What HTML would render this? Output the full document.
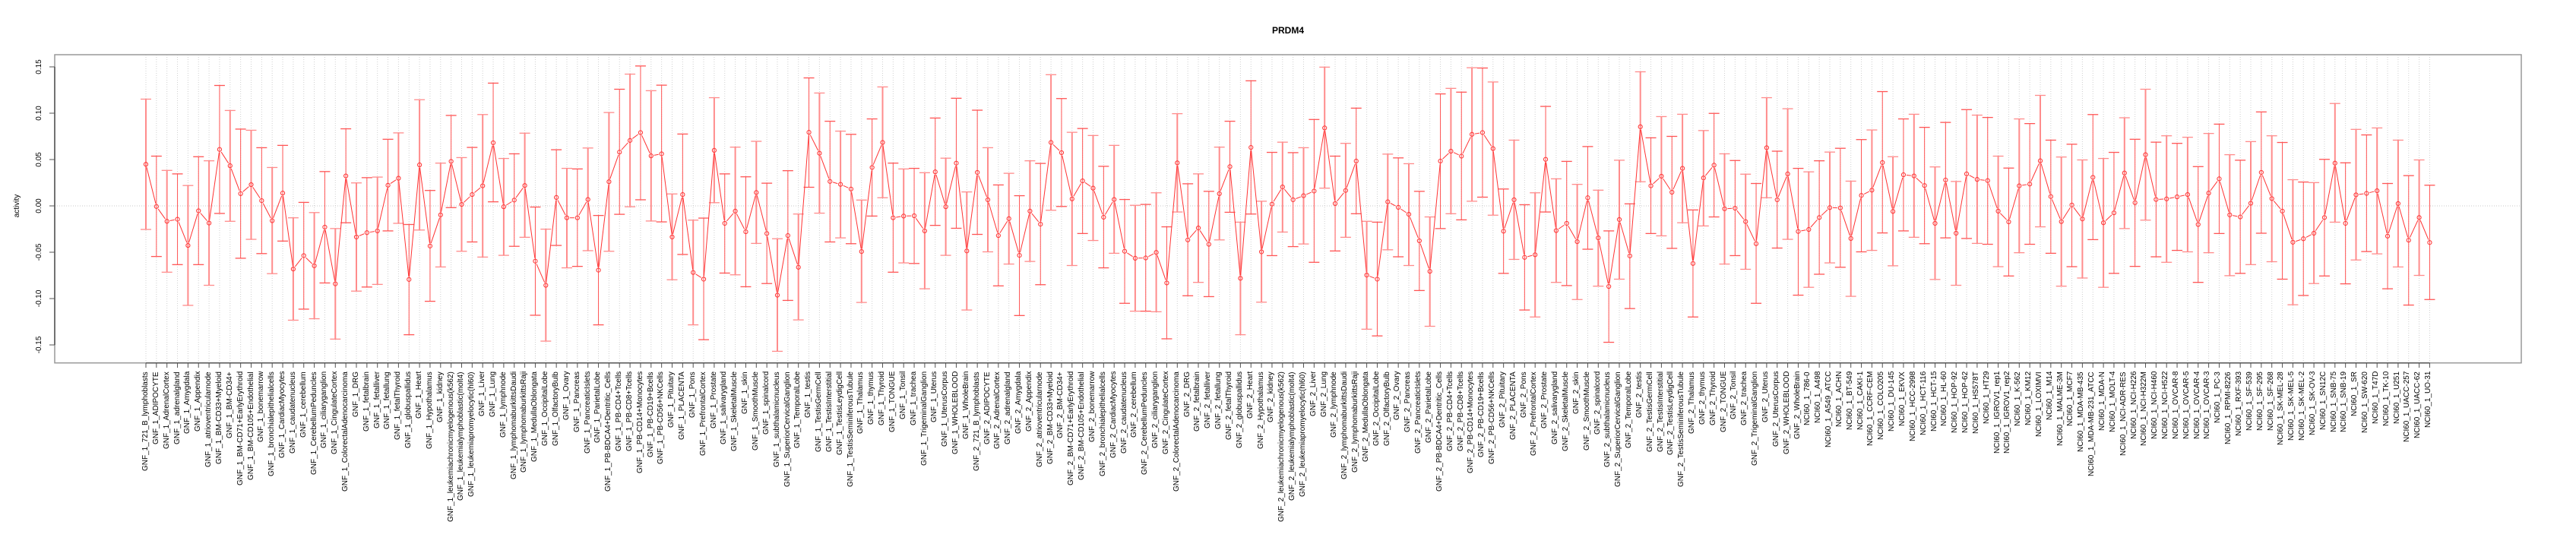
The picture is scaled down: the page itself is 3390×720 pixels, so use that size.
<!DOCTYPE html>
<html><head><meta charset="utf-8"><style>
html,body{margin:0;padding:0;background:#fff;}
#wrap{position:relative;width:3390px;height:720px;overflow:hidden;font-family:"Liberation Sans",sans-serif;}
svg{position:absolute;left:0;top:0;}
#labs{position:absolute;left:185.075px;top:489px;height:225px;display:flex;}
#labs div{width:13.85px;height:225px;writing-mode:vertical-rl;transform:rotate(180deg);text-align:right;font-size:10px;line-height:13.85px;white-space:nowrap;color:#000;}
</style></head><body><div id="wrap">
<svg id="s" width="3390" height="720" xmlns="http://www.w3.org/2000/svg">
<text x="1695" y="44" text-anchor="middle" font-family="Liberation Sans, sans-serif" font-weight="bold" font-size="12">PRDM4</text>
<text transform="translate(25,271) rotate(-90)" text-anchor="middle" font-family="Liberation Sans, sans-serif" font-size="10">activity</text>
<g font-family="Liberation Sans, sans-serif" font-size="10" text-anchor="middle">
<text transform="translate(54,88) rotate(-90)">0.15</text>
<text transform="translate(54,149) rotate(-90)">0.10</text>
<text transform="translate(54,210) rotate(-90)">0.05</text>
<text transform="translate(54,271) rotate(-90)">0.00</text>
<text transform="translate(54,332) rotate(-90)">-0.05</text>
<text transform="translate(54,393) rotate(-90)">-0.10</text>
<text transform="translate(54,454) rotate(-90)">-0.15</text>
</g>
<g id="g"></g>
</svg>
<div id="labs">
<div>GNF_1_721_B_lymphoblasts</div><div>GNF_1_ADIPOCYTE</div><div>GNF_1_AdrenalCortex</div><div>GNF_1_adrenalgland</div><div>GNF_1_Amygdala</div><div>GNF_1_Appendix</div><div>GNF_1_atrioventricularnode</div><div>GNF_1_BM-CD33+Myeloid</div><div>GNF_1_BM-CD34+</div><div>GNF_1_BM-CD71+EarlyErythroid</div><div>GNF_1_BM-CD105+Endothelial</div><div>GNF_1_bonemarrow</div><div>GNF_1_bronchialepithelialcells</div><div>GNF_1_CardiacMyocytes</div><div>GNF_1_caudatenucleus</div><div>GNF_1_cerebellum</div><div>GNF_1_CerebellumPeduncles</div><div>GNF_1_ciliaryganglion</div><div>GNF_1_CingulateCortex</div><div>GNF_1_ColorectalAdenocarcinoma</div><div>GNF_1_DRG</div><div>GNF_1_fetalbrain</div><div>GNF_1_fetalliver</div><div>GNF_1_fetallung</div><div>GNF_1_fetalThyroid</div><div>GNF_1_globuspallidus</div><div>GNF_1_Heart</div><div>GNF_1_Hypothalamus</div><div>GNF_1_kidney</div><div>GNF_1_leukemiachronicmyelogenous(k562)</div><div>GNF_1_leukemialymphoblastic(molt4)</div><div>GNF_1_leukemiapromyelocytic(hl60)</div><div>GNF_1_Liver</div><div>GNF_1_Lung</div><div>GNF_1_lymphnode</div><div>GNF_1_lymphomaburkittsDaudi</div><div>GNF_1_lymphomaburkittsRaji</div><div>GNF_1_MedullaOblongata</div><div>GNF_1_OccipitalLobe</div><div>GNF_1_OlfactoryBulb</div><div>GNF_1_Ovary</div><div>GNF_1_Pancreas</div><div>GNF_1_PancreaticIslets</div><div>GNF_1_ParietalLobe</div><div>GNF_1_PB-BDCA4+Dentritic_Cells</div><div>GNF_1_PB-CD4+Tcells</div><div>GNF_1_PB-CD8+Tcells</div><div>GNF_1_PB-CD14+Monocytes</div><div>GNF_1_PB-CD19+Bcells</div><div>GNF_1_PB-CD56+NKCells</div><div>GNF_1_Pituitary</div><div>GNF_1_PLACENTA</div><div>GNF_1_Pons</div><div>GNF_1_PrefrontalCortex</div><div>GNF_1_Prostate</div><div>GNF_1_salivarygland</div><div>GNF_1_SkeletalMuscle</div><div>GNF_1_skin</div><div>GNF_1_SmoothMuscle</div><div>GNF_1_spinalcord</div><div>GNF_1_subthalamicnucleus</div><div>GNF_1_SuperiorCervicalGanglion</div><div>GNF_1_TemporalLobe</div><div>GNF_1_testis</div><div>GNF_1_TestisGermCell</div><div>GNF_1_TestisInterstitial</div><div>GNF_1_TestisLeydigCell</div><div>GNF_1_TestisSeminiferousTubule</div><div>GNF_1_Thalamus</div><div>GNF_1_thymus</div><div>GNF_1_Thyroid</div><div>GNF_1_TONGUE</div><div>GNF_1_Tonsil</div><div>GNF_1_trachea</div><div>GNF_1_TrigeminalGanglion</div><div>GNF_1_Uterus</div><div>GNF_1_UterusCorpus</div><div>GNF_1_WHOLEBLOOD</div><div>GNF_1_WholeBrain</div>
<div>GNF_2_721_B_lymphoblasts</div><div>GNF_2_ADIPOCYTE</div><div>GNF_2_AdrenalCortex</div><div>GNF_2_adrenalgland</div><div>GNF_2_Amygdala</div><div>GNF_2_Appendix</div><div>GNF_2_atrioventricularnode</div><div>GNF_2_BM-CD33+Myeloid</div><div>GNF_2_BM-CD34+</div><div>GNF_2_BM-CD71+EarlyErythroid</div><div>GNF_2_BM-CD105+Endothelial</div><div>GNF_2_bonemarrow</div><div>GNF_2_bronchialepithelialcells</div><div>GNF_2_CardiacMyocytes</div><div>GNF_2_caudatenucleus</div><div>GNF_2_cerebellum</div><div>GNF_2_CerebellumPeduncles</div><div>GNF_2_ciliaryganglion</div><div>GNF_2_CingulateCortex</div><div>GNF_2_ColorectalAdenocarcinoma</div><div>GNF_2_DRG</div><div>GNF_2_fetalbrain</div><div>GNF_2_fetalliver</div><div>GNF_2_fetallung</div><div>GNF_2_fetalThyroid</div><div>GNF_2_globuspallidus</div><div>GNF_2_Heart</div><div>GNF_2_Hypothalamus</div><div>GNF_2_kidney</div><div>GNF_2_leukemiachronicmyelogenous(k562)</div><div>GNF_2_leukemialymphoblastic(molt4)</div><div>GNF_2_leukemiapromyelocytic(hl60)</div><div>GNF_2_Liver</div><div>GNF_2_Lung</div><div>GNF_2_lymphnode</div><div>GNF_2_lymphomaburkittsDaudi</div><div>GNF_2_lymphomaburkittsRaji</div><div>GNF_2_MedullaOblongata</div><div>GNF_2_OccipitalLobe</div><div>GNF_2_OlfactoryBulb</div><div>GNF_2_Ovary</div><div>GNF_2_Pancreas</div><div>GNF_2_PancreaticIslets</div><div>GNF_2_ParietalLobe</div><div>GNF_2_PB-BDCA4+Dentritic_Cells</div><div>GNF_2_PB-CD4+Tcells</div><div>GNF_2_PB-CD8+Tcells</div><div>GNF_2_PB-CD14+Monocytes</div><div>GNF_2_PB-CD19+Bcells</div><div>GNF_2_PB-CD56+NKCells</div><div>GNF_2_Pituitary</div><div>GNF_2_PLACENTA</div><div>GNF_2_Pons</div><div>GNF_2_PrefrontalCortex</div><div>GNF_2_Prostate</div><div>GNF_2_salivarygland</div><div>GNF_2_SkeletalMuscle</div><div>GNF_2_skin</div><div>GNF_2_SmoothMuscle</div><div>GNF_2_spinalcord</div><div>GNF_2_subthalamicnucleus</div><div>GNF_2_SuperiorCervicalGanglion</div><div>GNF_2_TemporalLobe</div><div>GNF_2_testis</div><div>GNF_2_TestisGermCell</div><div>GNF_2_TestisInterstitial</div><div>GNF_2_TestisLeydigCell</div><div>GNF_2_TestisSeminiferousTubule</div><div>GNF_2_Thalamus</div><div>GNF_2_thymus</div><div>GNF_2_Thyroid</div><div>GNF_2_TONGUE</div><div>GNF_2_Tonsil</div><div>GNF_2_trachea</div><div>GNF_2_TrigeminalGanglion</div><div>GNF_2_Uterus</div><div>GNF_2_UterusCorpus</div><div>GNF_2_WHOLEBLOOD</div><div>GNF_2_WholeBrain</div>
<div>NCI60_1_786-0</div><div>NCI60_1_A498</div><div>NCI60_1_A549_ATCC</div><div>NCI60_1_ACHN</div><div>NCI60_1_BT-549</div><div>NCI60_1_CAKI-1</div><div>NCI60_1_CCRF-CEM</div><div>NCI60_1_COLO205</div><div>NCI60_1_DU-145</div><div>NCI60_1_EKVX</div><div>NCI60_1_HCC-2998</div><div>NCI60_1_HCT-116</div><div>NCI60_1_HCT-15</div><div>NCI60_1_HL-60</div><div>NCI60_1_HOP-92</div><div>NCI60_1_HOP-62</div><div>NCI60_1_HS578T</div><div>NCI60_1_HT29</div><div>NCI60_1_IGROV1_rep1</div><div>NCI60_1_IGROV1_rep2</div><div>NCI60_1_K-562</div><div>NCI60_1_KM12</div><div>NCI60_1_LOXIMVI</div><div>NCI60_1_M14</div><div>NCI60_1_MALME-3M</div><div>NCI60_1_MCF7</div><div>NCI60_1_MDA-MB-435</div><div>NCI60_1_MDA-MB-231_ATCC</div><div>NCI60_1_MDA-N</div><div>NCI60_1_MOLT-4</div><div>NCI60_1_NCI-ADR-RES</div><div>NCI60_1_NCI-H226</div><div>NCI60_1_NCI-H322M</div><div>NCI60_1_NCI-H460</div><div>NCI60_1_NCI-H522</div><div>NCI60_1_OVCAR-8</div><div>NCI60_1_OVCAR-5</div><div>NCI60_1_OVCAR-4</div><div>NCI60_1_OVCAR-3</div><div>NCI60_1_PC-3</div><div>NCI60_1_RPMI-8226</div><div>NCI60_1_RXF-393</div><div>NCI60_1_SF-539</div><div>NCI60_1_SF-295</div><div>NCI60_1_SF-268</div><div>NCI60_1_SK-MEL-28</div><div>NCI60_1_SK-MEL-5</div><div>NCI60_1_SK-MEL-2</div><div>NCI60_1_SK-OV-3</div><div>NCI60_1_SN12C</div><div>NCI60_1_SNB-75</div><div>NCI60_1_SNB-19</div><div>NCI60_1_SR</div><div>NCI60_1_SW-620</div><div>NCI60_1_T47D</div><div>NCI60_1_TK-10</div><div>NCI60_1_U251</div><div>NCI60_1_UACC-257</div><div>NCI60_1_UACC-62</div><div>NCI60_1_UO-31</div>
</div>
</div>
<script>
var D=[[382,158,606],[527,354,699],[578,403,753],[571,415,727],[661,455,867],[542,356,727],[584,370,798],[331,111,551],[387,197,578],[483,261,705],[452,265,640],[507,325,689],[576,393,758],[481,317,646],[742,566,918],[696,513,880],[731,548,913],[598,407,790],[793,603,983],[422,260,583],[632,446,818],[617,428,804],[611,426,795],[454,296,611],[430,274,585],[778,589,968],[384,160,608],
[663,472,853],[556,378,735],[372,214,531],[520,359,681],[486,324,649],[456,211,701],[308,103,511],[528,362,695],[505,346,664],[455,275,633],[715,529,901],[798,605,990],[496,332,661],[566,396,738],[566,398,733],[503,326,679],[746,558,934],[442,204,681],[340,124,554],[300,72,528],[273,44,504],[353,129,577],[346,110,580],[632,484,779],[486,278,692],[754,574,934],[777,567,985],
[334,153,514],[585,415,756],[543,323,762],[614,425,803],[479,303,654],[620,447,792],[832,638,1025],[627,404,850],[736,553,917],[272,85,461],[344,137,550],[441,234,649],[451,268,635],[467,279,655],[682,505,857],[393,226,560],[307,116,497],[566,378,753],[560,398,721],[559,396,723],[611,411,810],[408,223,592],[528,361,695],[378,155,602],[680,477,883],[410,196,623],[504,325,683],
[627,453,800],[569,413,725],[695,490,902],[543,370,716],[588,379,796],[307,74,540],[342,156,527],[501,272,730],[439,259,620],[464,283,644],[564,389,738],[503,317,688],[681,503,860],[705,523,887],[704,520,887],[685,480,889],[790,597,982],[377,208,546],[642,449,834],[601,415,788],[657,475,837],[483,323,642],[390,234,547],[774,581,968],[324,95,553],[683,509,856],[519,341,696],
[460,306,615],[504,342,665],[490,325,656],[474,228,719],[257,48,464],[517,354,680],[472,310,633],[371,189,552],[763,578,949],[777,581,972],[511,347,676],[530,360,700],[554,380,730],[645,475,816],[750,563,939],[371,140,603],[337,121,552],[354,134,573],[279,50,509],[273,51,495],[328,99,557],[612,467,757],[504,299,709],[702,521,883],[693,480,907],[365,183,546],[610,432,788],
[585,372,799],[648,451,847],[497,321,674],[635,471,801],[802,611,994],[572,368,777],[697,518,878],[253,64,442],[456,291,620],[423,218,628],[478,286,671],[396,210,583],[723,539,907],[429,266,594],[385,207,563],[535,346,725],[533,369,696],[579,416,743],[655,448,860],[325,153,497],[504,337,670],[415,191,640],[613,396,832],[606,408,805],[565,370,760],[531,340,721],[532,327,736],
[637,440,836],[489,297,683],[471,264,678],[376,132,618],[544,356,731],[418,226,611],[422,210,633],[455,255,655],[585,391,778],[436,238,635],[619,441,798],[415,194,637],[434,213,654],[438,221,657],[543,354,734],[580,395,766],[456,226,686],[450,242,657],[370,145,597],[493,299,688],[579,357,801],[522,313,734],[570,367,773],[427,211,641],[583,362,805],[549,341,757],[412,222,603],[514,296,733],
[349,124,574],[503,306,700],[501,284,719],[494,310,678],[486,289,683],[589,390,788],[481,276,686],[432,244,620],[556,349,765],[563,368,757],[516,304,727],[410,202,619],[500,284,717],[543,307,777],[650,435,865],[638,443,833],[619,445,792],[565,365,766],[378,173,581],[585,377,793],[487,262,711],[482,281,682],[473,257,690],[629,448,810],[517,299,735],[643,421,866],[565,367,764],[651,454,847]];
var N=D.length,dx=13.85,x0=192,h='';
function Y(z){return 70+z/2.612;}
function X(i){return x0+i*dx;}
// grid
for(var i=0;i<N;i++){h+='<line x1="'+X(i)+'" y1="72" x2="'+X(i)+'" y2="477.7" stroke="#d0d0d0" stroke-width="1" stroke-dasharray="1,2"/>';}
h+='<line x1="72" y1="271" x2="3318" y2="271" stroke="#c8c8c8" stroke-width="1" stroke-dasharray="1,2"/>';
// box
h+='<rect x="72" y="72" width="3246" height="405.7" fill="none" stroke="#999" stroke-width="1.5"/>';
h+='<line x1="72" y1="88" x2="72" y2="454" stroke="#555" stroke-width="1.5"/>';
var ty=[88,149,210,271,332,393,454];
for(var k=0;k<ty.length;k++)h+='<line x1="65" y1="'+ty[k]+'" x2="72" y2="'+ty[k]+'" stroke="#555" stroke-width="1"/>';
h+='<line x1="'+X(0)+'" y1="477.7" x2="'+X(N-1)+'" y2="477.7" stroke="#555" stroke-width="1.5"/>';
for(var i=0;i<N;i++)h+='<line x1="'+X(i)+'" y1="477.7" x2="'+X(i)+'" y2="484" stroke="#555" stroke-width="1"/>';
// error bars
for(var i=0;i<N;i++){var x=X(i),t=Y(D[i][1]),b=Y(D[i][2]);var c=(i%2)?'#ff5555':'#ff8c8c';var w=(i%2)?1:2;
h+='<line x1="'+x+'" y1="'+t+'" x2="'+x+'" y2="'+b+'" stroke="'+c+'" stroke-width="'+w+'"/>';
h+='<line x1="'+(x-7)+'" y1="'+t+'" x2="'+(x+7)+'" y2="'+t+'" stroke="'+c+'" stroke-width="1.3"/>';
h+='<line x1="'+(x-7)+'" y1="'+b+'" x2="'+(x+7)+'" y2="'+b+'" stroke="'+c+'" stroke-width="1.3"/>';}
// connecting line
var r=2.6,gap=4;
for(var i=0;i<N-1;i++){var ax=X(i),ay=Y(D[i][0]),bx=X(i+1),by=Y(D[i+1][0]);var L=Math.hypot(bx-ax,by-ay);if(L<2*gap+1)continue;var ux=(bx-ax)/L,uy=(by-ay)/L;
h+='<line x1="'+(ax+ux*gap)+'" y1="'+(ay+uy*gap)+'" x2="'+(bx-ux*gap)+'" y2="'+(by-uy*gap)+'" stroke="#ff3333" stroke-width="1"/>';}
for(var i=0;i<N;i++)h+='<circle cx="'+X(i)+'" cy="'+Y(D[i][0])+'" r="'+r+'" fill="none" stroke="#ff3333" stroke-width="1"/>';
document.getElementById('g').innerHTML=h;
</script>
</body></html>
